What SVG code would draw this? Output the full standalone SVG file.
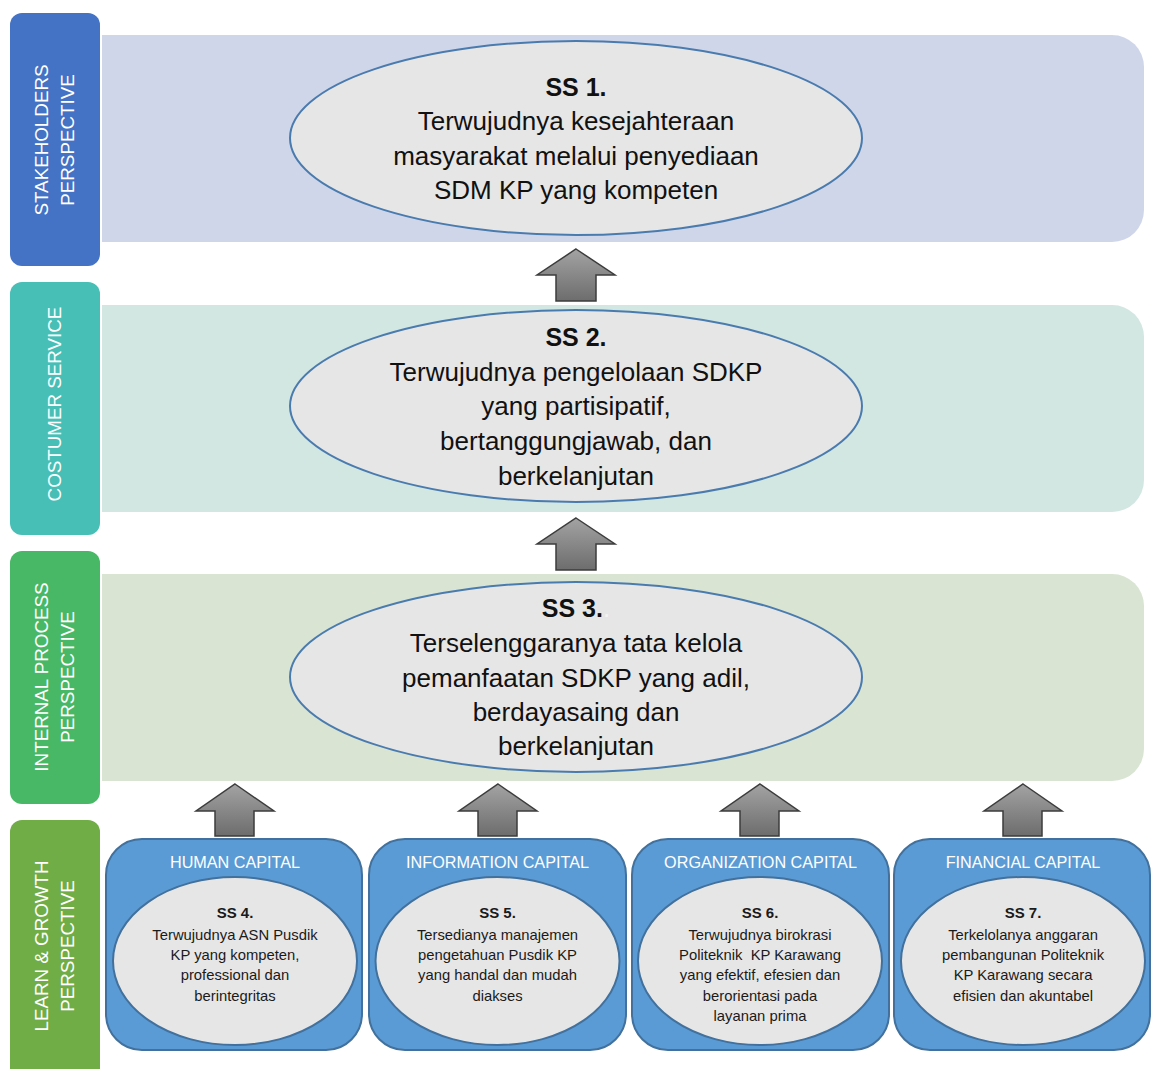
<svg xmlns="http://www.w3.org/2000/svg" width="1152" height="1069" viewBox="0 0 1152 1069">
<defs>
<linearGradient id="ag" x1="0" y1="0" x2="0" y2="1">
<stop offset="0" stop-color="#a3a3a3"/>
<stop offset="1" stop-color="#6d6d6d"/>
</linearGradient>
<style>
.lbl{font-family:"Liberation Sans",Arial,sans-serif;font-size:18.8px;fill:#fff;text-anchor:middle}
.big{font-family:"Liberation Sans",Arial,sans-serif;font-size:26px;fill:#111;text-anchor:middle}
.bigb{font-weight:bold;font-size:25px}
.sm{font-family:"Liberation Sans",Arial,sans-serif;font-size:14.8px;fill:#1a1a1a;text-anchor:middle}
.smb{font-weight:bold;font-size:15px}
.hdr{font-family:"Liberation Sans",Arial,sans-serif;font-size:16.2px;fill:#fff;text-anchor:middle}
.bell{fill:#e7e6e6;stroke:#4a7bae;stroke-width:2}
.sell{fill:#e7e6e6;stroke:#41719c;stroke-width:2}
.box{fill:#5b9bd5;stroke:#41719c;stroke-width:2}
.arr{fill:url(#ag);stroke:#3c3c3c;stroke-width:1.5}
</style>
</defs>

<g id="bands">
<path d="M102,35 H1112 A32,32 0 0 1 1144,67 V210 A32,32 0 0 1 1112,242 H102 Z" fill="#d0d6ea"/>
<path d="M102,305 H1112 A32,32 0 0 1 1144,337 V480 A32,32 0 0 1 1112,512 H102 Z" fill="#d2e6e2"/>
<path d="M102,574 H1112 A32,32 0 0 1 1144,606 V749 A32,32 0 0 1 1112,781 H102 Z" fill="#d9e4d3"/>
</g>

<g id="label-stakeholders">
<rect x="10" y="13" width="90" height="253" rx="12" fill="#4472c4"/>
<text class="lbl" transform="translate(48,140) rotate(-90)">STAKEHOLDERS</text>
<text class="lbl" transform="translate(74,140) rotate(-90)">PERSPECTIVE</text>
</g>
<g id="label-costumer">
<rect x="10" y="282" width="90" height="253" rx="12" fill="#47bfb7"/>
<text class="lbl" transform="translate(61,404) rotate(-90)">COSTUMER SERVICE</text>
</g>
<g id="label-internal">
<rect x="10" y="551" width="90" height="253" rx="12" fill="#48b866"/>
<text class="lbl" transform="translate(48,677) rotate(-90)">INTERNAL PROCESS</text>
<text class="lbl" transform="translate(74,677) rotate(-90)">PERSPECTIVE</text>
</g>
<g id="label-learn">
<rect x="10" y="820" width="90" height="262" rx="12" fill="#70ad47"/>
<text class="lbl" transform="translate(48,946) rotate(-90)">LEARN &amp; GROWTH</text>
<text class="lbl" transform="translate(74,946) rotate(-90)">PERSPECTIVE</text>
</g>

<g id="ss1">
<ellipse class="bell" cx="576" cy="138" rx="286" ry="97"/>
<text class="big bigb" x="576" y="96">SS 1.</text>
<text class="big" x="576" y="130">Terwujudnya kesejahteraan</text>
<text class="big" x="576" y="165">masyarakat melalui penyediaan</text>
<text class="big" x="576" y="199">SDM KP yang kompeten</text>
</g>

<g id="ss2">
<ellipse class="bell" cx="576" cy="406" rx="286" ry="96"/>
<text class="big bigb" x="576" y="346">SS 2.</text>
<text class="big" x="576" y="381">Terwujudnya pengelolaan SDKP</text>
<text class="big" x="576" y="415">yang partisipatif,</text>
<text class="big" x="576" y="450">bertanggungjawab, dan</text>
<text class="big" x="576" y="485">berkelanjutan</text>
</g>

<g id="ss3">
<ellipse class="bell" cx="576" cy="677" rx="286" ry="95"/>
<text class="big" x="576" y="617"><tspan class="bigb">SS 3.</tspan><tspan fill="#f4f4f4">.</tspan></text>
<text class="big" x="576" y="652">Terselenggaranya tata kelola</text>
<text class="big" x="576" y="687">pemanfaatan SDKP yang adil,</text>
<text class="big" x="576" y="721">berdayasaing dan</text>
<text class="big" x="576" y="755">berkelanjutan</text>
</g>

<g id="ss4">
<rect class="box" x="106" y="839" width="256" height="211" rx="36"/>
<text class="hdr" x="235" y="868">HUMAN CAPITAL</text>
<ellipse class="sell" cx="235" cy="961" rx="122" ry="84"/>
<text class="sm smb" x="235" y="918">SS 4.</text>
<text class="sm" x="235" y="940">Terwujudnya ASN Pusdik</text>
<text class="sm" x="235" y="960">KP yang kompeten,</text>
<text class="sm" x="235" y="980">professional dan</text>
<text class="sm" x="235" y="1001">berintegritas</text>
</g>

<g id="ss5">
<rect class="box" x="369" y="839" width="257" height="211" rx="36"/>
<text class="hdr" x="497.5" y="868">INFORMATION CAPITAL</text>
<ellipse class="sell" cx="497.5" cy="961" rx="122" ry="84"/>
<text class="sm smb" x="497.5" y="918">SS 5.</text>
<text class="sm" x="497.5" y="940">Tersedianya manajemen</text>
<text class="sm" x="497.5" y="960">pengetahuan Pusdik KP</text>
<text class="sm" x="497.5" y="980">yang handal dan mudah</text>
<text class="sm" x="497.5" y="1001">diakses</text>
</g>

<g id="ss6">
<rect class="box" x="632" y="839" width="257" height="211" rx="36"/>
<text class="hdr" x="760.5" y="868">ORGANIZATION CAPITAL</text>
<ellipse class="sell" cx="760" cy="961" rx="122" ry="84"/>
<text class="sm smb" x="760" y="918">SS 6.</text>
<text class="sm" x="760" y="940">Terwujudnya birokrasi</text>
<text class="sm" x="760" y="960" xml:space="preserve">Politeknik  KP Karawang</text>
<text class="sm" x="760" y="980">yang efektif, efesien dan</text>
<text class="sm" x="760" y="1001">berorientasi pada</text>
<text class="sm" x="760" y="1021">layanan prima</text>
</g>

<g id="ss7">
<rect class="box" x="894" y="839" width="256" height="211" rx="36"/>
<text class="hdr" x="1023" y="868">FINANCIAL CAPITAL</text>
<ellipse class="sell" cx="1023" cy="961" rx="122" ry="84"/>
<text class="sm smb" x="1023" y="918">SS 7.</text>
<text class="sm" x="1023" y="940">Terkelolanya anggaran</text>
<text class="sm" x="1023" y="960">pembangunan Politeknik</text>
<text class="sm" x="1023" y="980">KP Karawang secara</text>
<text class="sm" x="1023" y="1001">efisien dan akuntabel</text>
</g>

<g id="connectors">
<path class="arr" d="M576,249 L615,275 L596,275 L596,301 L556,301 L556,275 L537,275 Z"/>
<path class="arr" d="M576,518 L615,544 L596,544 L596,570 L556,570 L556,544 L537,544 Z"/>
<path class="arr" d="M235,784 L274,811 L254,811 L254,836 L215,836 L215,811 L196,811 Z"/>
<path class="arr" d="M498,784 L537,811 L517,811 L517,836 L478,836 L478,811 L459,811 Z"/>
<path class="arr" d="M760,784 L799,811 L779,811 L779,836 L740,836 L740,811 L721,811 Z"/>
<path class="arr" d="M1023,784 L1062,811 L1042,811 L1042,836 L1003,836 L1003,811 L984,811 Z"/>
</g>
</svg>
